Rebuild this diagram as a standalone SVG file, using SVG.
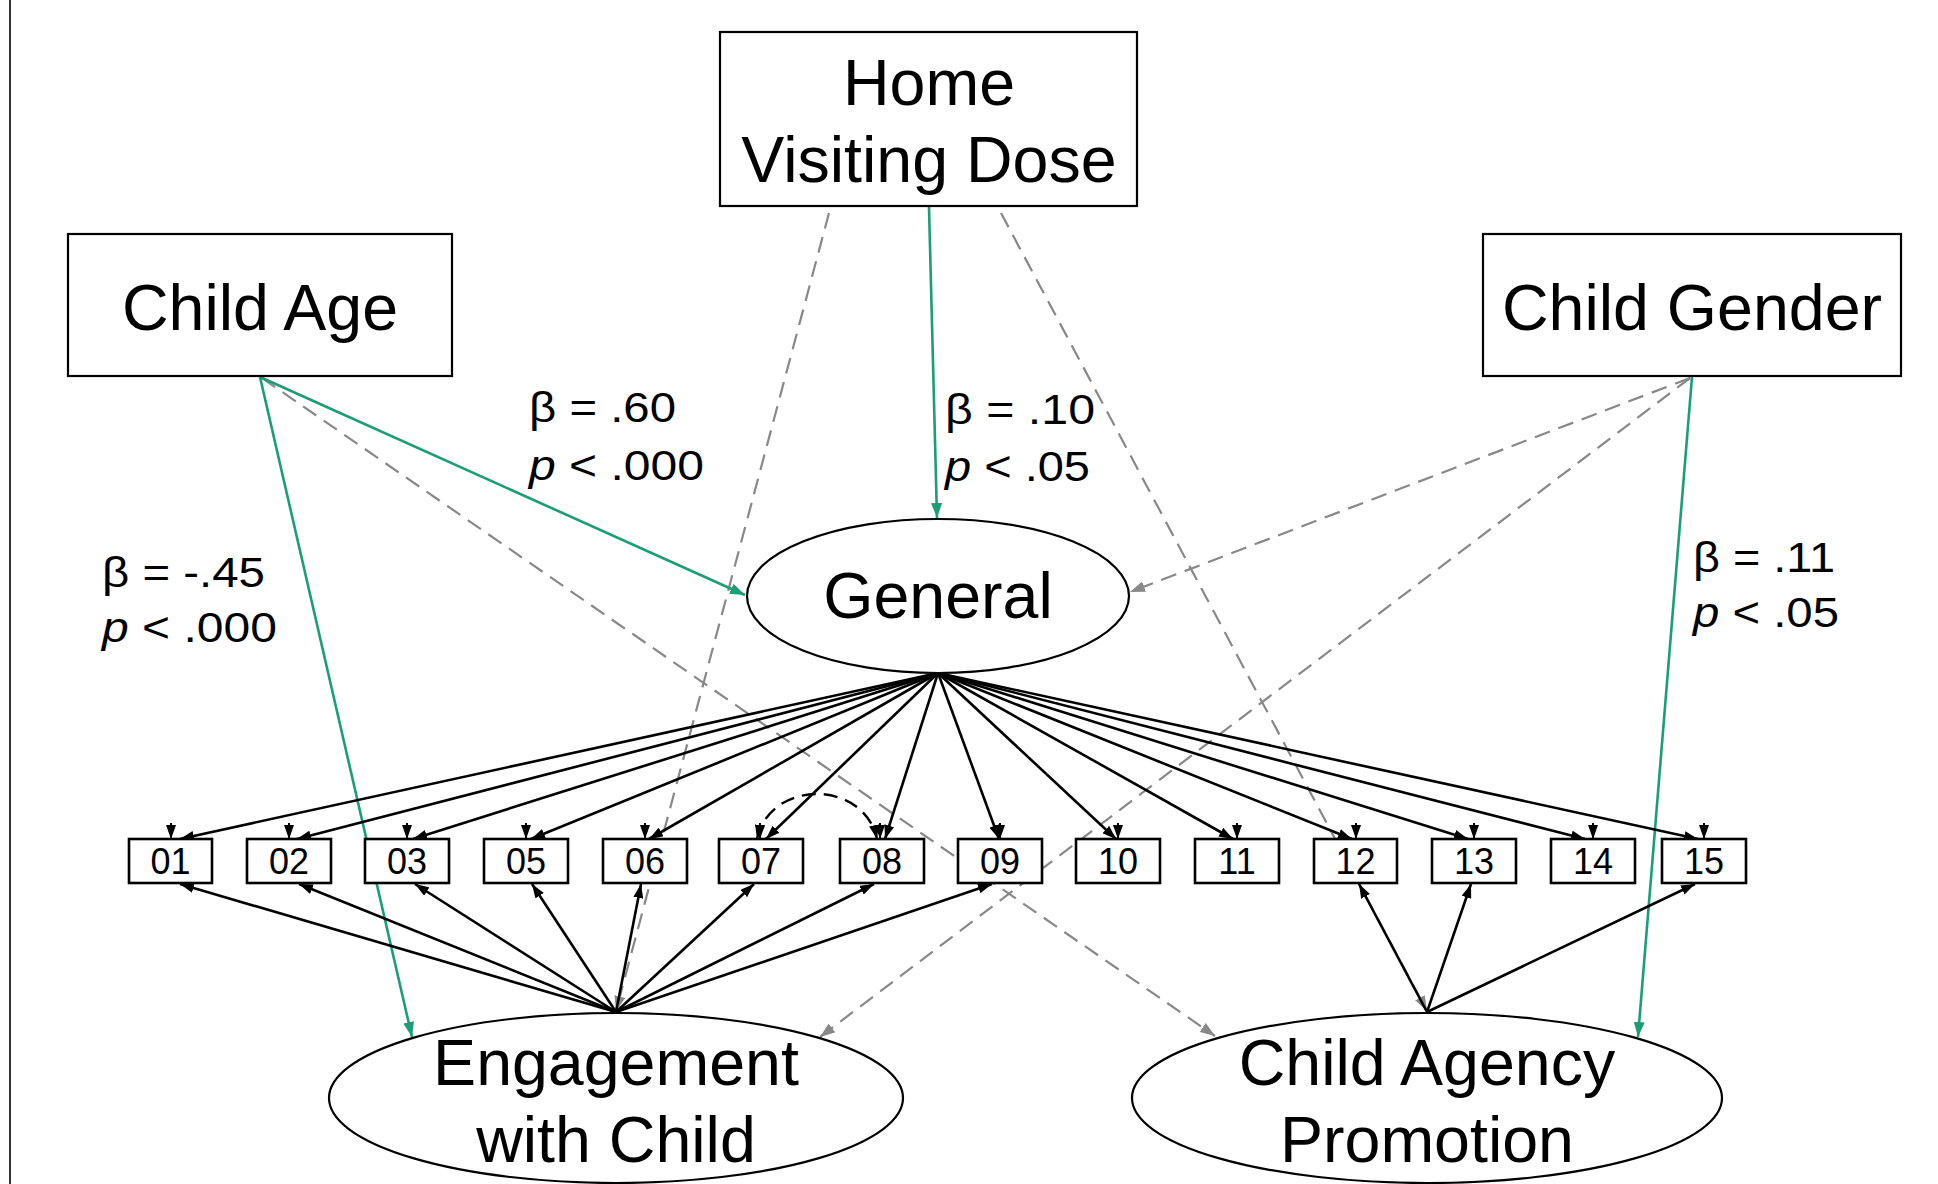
<svg xmlns="http://www.w3.org/2000/svg" width="1938" height="1184" viewBox="0 0 1938 1184">
<style>
text{font-family:"Liberation Sans",Arial,sans-serif;fill:#000}
.big{font-size:64.5px;text-anchor:middle}
.lab{font-size:43px}
.ind{font-size:36px;text-anchor:middle}
.box{fill:#fff;stroke:#000;stroke-width:2.2}
.ibox{fill:#fff;stroke:#000;stroke-width:2.6}
.ell{fill:#fff;stroke:#000;stroke-width:2.2}
.blk{stroke:#000;stroke-width:2.6;fill:none;marker-end:url(#ab)}
.err{stroke:#000;stroke-width:2;fill:none;marker-end:url(#ab)}
.gd{stroke:#888;stroke-width:2.2;fill:none;stroke-dasharray:16 9;marker-end:url(#ag)}
.gr{stroke:#1b9e77;stroke-width:2.6;fill:none;marker-end:url(#agr)}
</style>
<defs>
<marker id="ab" markerUnits="userSpaceOnUse" markerWidth="14" markerHeight="10" viewBox="0 0 14 10" refX="14" refY="5" orient="auto"><path d="M0,0 L14,5 L0,10 z" fill="#000"/></marker>
<marker id="abs" markerUnits="userSpaceOnUse" markerWidth="14" markerHeight="10" viewBox="0 0 14 10" refX="14" refY="5" orient="auto-start-reverse"><path d="M0,0 L14,5 L0,10 z" fill="#000"/></marker>
<marker id="ag" markerUnits="userSpaceOnUse" markerWidth="15" markerHeight="11" viewBox="0 0 15 11" refX="15" refY="5.5" orient="auto"><path d="M0,0 L15,5.5 L0,11 z" fill="#888"/></marker>
<marker id="agr" markerUnits="userSpaceOnUse" markerWidth="15" markerHeight="11" viewBox="0 0 15 11" refX="15" refY="5.5" orient="auto"><path d="M0,0 L15,5.5 L0,11 z" fill="#1b9e77"/></marker>
</defs>
<rect x="0" y="0" width="1938" height="1184" fill="#fff"/>
<line x1="10" y1="0" x2="10" y2="1184" stroke="#333" stroke-width="2"/>

<g id="connectors">
<!-- Home Visiting Dose -->
<line class="gd" x1="829" y1="213" x2="616" y2="1011"/>
<line class="gd" x1="1001" y1="213" x2="1427" y2="1011"/>
<line class="gr" x1="929" y1="207" x2="937" y2="518"/>
<!-- Child Age -->
<line class="gd" x1="262" y1="378" x2="1215" y2="1036"/>
<line class="gr" x1="260" y1="377" x2="412" y2="1037"/>
<line class="gr" x1="260" y1="377" x2="745" y2="595" stroke-width="3.2"/>
<!-- Child Gender -->
<line class="gd" x1="1690" y1="378" x2="1130" y2="592"/>
<line class="gd" x1="1690" y1="378" x2="820" y2="1037"/>
<line class="gr" x1="1692" y1="377" x2="1638" y2="1037"/>
<!-- General to indicators -->
<line class="blk" x1="938" y1="673" x2="180" y2="839"/>
<line class="blk" x1="938" y1="673" x2="297" y2="839"/>
<line class="blk" x1="938" y1="673" x2="413" y2="839"/>
<line class="blk" x1="938" y1="673" x2="531" y2="839"/>
<line class="blk" x1="938" y1="673" x2="649" y2="839"/>
<line class="blk" x1="938" y1="673" x2="766" y2="839"/>
<line class="blk" x1="938" y1="673" x2="885" y2="839"/>
<line class="blk" x1="938" y1="673" x2="999" y2="839"/>
<line class="blk" x1="938" y1="673" x2="1116" y2="839"/>
<line class="blk" x1="938" y1="673" x2="1233" y2="839"/>
<line class="blk" x1="938" y1="673" x2="1352" y2="839"/>
<line class="blk" x1="938" y1="673" x2="1468" y2="839"/>
<line class="blk" x1="938" y1="673" x2="1585" y2="839"/>
<line class="blk" x1="938" y1="673" x2="1698" y2="839"/>
<!-- error arrows -->
<line class="err" x1="171" y1="823" x2="171" y2="839"/>
<line class="err" x1="289" y1="823" x2="289" y2="839"/>
<line class="err" x1="407" y1="823" x2="407" y2="839"/>
<line class="err" x1="526" y1="823" x2="526" y2="839"/>
<line class="err" x1="645" y1="823" x2="645" y2="839"/>
<line class="err" x1="760" y1="823" x2="760" y2="839"/>
<line class="err" x1="880" y1="823" x2="880" y2="839"/>
<line class="err" x1="1000" y1="823" x2="1000" y2="839"/>
<line class="err" x1="1118" y1="823" x2="1118" y2="839"/>
<line class="err" x1="1237" y1="823" x2="1237" y2="839"/>
<line class="err" x1="1356" y1="823" x2="1356" y2="839"/>
<line class="err" x1="1474" y1="823" x2="1474" y2="839"/>
<line class="err" x1="1593" y1="823" x2="1593" y2="839"/>
<line class="err" x1="1704" y1="823" x2="1704" y2="839"/>
<!-- correlated residual 07-08 -->
<path d="M757,839 C770,779 864,779 877,839" fill="none" stroke="#000" stroke-width="2.4" stroke-dasharray="14 8" marker-start="url(#abs)" marker-end="url(#abs)"/>
<!-- Engagement to indicators -->
<line class="blk" x1="616" y1="1012" x2="180" y2="884"/>
<line class="blk" x1="616" y1="1012" x2="299" y2="884"/>
<line class="blk" x1="616" y1="1012" x2="415" y2="884"/>
<line class="blk" x1="616" y1="1012" x2="532" y2="884"/>
<line class="blk" x1="616" y1="1012" x2="641" y2="884"/>
<line class="blk" x1="616" y1="1012" x2="754" y2="884"/>
<line class="blk" x1="616" y1="1012" x2="874" y2="884"/>
<line class="blk" x1="616" y1="1012" x2="992" y2="884"/>
<!-- Child Agency to indicators -->
<line class="blk" x1="1427" y1="1012" x2="1359" y2="884"/>
<line class="blk" x1="1427" y1="1012" x2="1471" y2="884"/>
<line class="blk" x1="1427" y1="1012" x2="1695" y2="884"/>
</g>

<g id="node-home">
<rect class="box" x="720" y="32" width="417" height="174"/>
<text class="big" x="929" y="105">Home</text>
<text class="big" x="929" y="182">Visiting Dose</text>
</g>
<g id="node-childage">
<rect class="box" x="68" y="234" width="384" height="142"/>
<text class="big" x="260" y="330">Child Age</text>
</g>
<g id="node-childgender">
<rect class="box" x="1483" y="234" width="418" height="142"/>
<text class="big" x="1692" y="330">Child Gender</text>
</g>
<g id="node-general">
<ellipse class="ell" cx="938" cy="596" rx="191" ry="77"/>
<text class="big" x="938" y="618">General</text>
</g>
<g id="node-engagement">
<ellipse class="ell" cx="616" cy="1098" rx="287" ry="85"/>
<text class="big" x="616" y="1085">Engagement</text>
<text class="big" x="616" y="1162">with Child</text>
</g>
<g id="node-agency">
<ellipse class="ell" cx="1427" cy="1098" rx="295" ry="85"/>
<text class="big" x="1427" y="1085">Child Agency</text>
<text class="big" x="1427" y="1162">Promotion</text>
</g>

<g id="node-i01"><rect class="ibox" x="129" y="839" width="83" height="44"/><text class="ind" x="170.5" y="874">01</text></g>
<g id="node-i02"><rect class="ibox" x="247" y="839" width="84" height="44"/><text class="ind" x="289" y="874">02</text></g>
<g id="node-i03"><rect class="ibox" x="365" y="839" width="84" height="44"/><text class="ind" x="407" y="874">03</text></g>
<g id="node-i05"><rect class="ibox" x="484" y="839" width="84" height="44"/><text class="ind" x="526" y="874">05</text></g>
<g id="node-i06"><rect class="ibox" x="603" y="839" width="84" height="44"/><text class="ind" x="645" y="874">06</text></g>
<g id="node-i07"><rect class="ibox" x="719" y="839" width="84" height="44"/><text class="ind" x="761" y="874">07</text></g>
<g id="node-i08"><rect class="ibox" x="840" y="839" width="84" height="44"/><text class="ind" x="882" y="874">08</text></g>
<g id="node-i09"><rect class="ibox" x="958" y="839" width="84" height="44"/><text class="ind" x="1000" y="874">09</text></g>
<g id="node-i10"><rect class="ibox" x="1076" y="839" width="84" height="44"/><text class="ind" x="1118" y="874">10</text></g>
<g id="node-i11"><rect class="ibox" x="1195" y="839" width="84" height="44"/><text class="ind" x="1237" y="874">11</text></g>
<g id="node-i12"><rect class="ibox" x="1314" y="839" width="83" height="44"/><text class="ind" x="1355.5" y="874">12</text></g>
<g id="node-i13"><rect class="ibox" x="1432" y="839" width="84" height="44"/><text class="ind" x="1474" y="874">13</text></g>
<g id="node-i14"><rect class="ibox" x="1551" y="839" width="84" height="44"/><text class="ind" x="1593" y="874">14</text></g>
<g id="node-i15"><rect class="ibox" x="1662" y="839" width="84" height="44"/><text class="ind" x="1704" y="874">15</text></g>

<g id="labels">
<text class="lab" x="529" y="422" textLength="147" lengthAdjust="spacingAndGlyphs">β = .60</text>
<text class="lab" x="529" y="480" textLength="175" lengthAdjust="spacingAndGlyphs"><tspan font-style="italic">p</tspan> &lt; .000</text>
<text class="lab" x="945" y="424" textLength="150" lengthAdjust="spacingAndGlyphs">β = .10</text>
<text class="lab" x="945" y="481" textLength="145" lengthAdjust="spacingAndGlyphs"><tspan font-style="italic">p</tspan> &lt; .05</text>
<text class="lab" x="102" y="587" textLength="163" lengthAdjust="spacingAndGlyphs">β = -.45</text>
<text class="lab" x="102" y="642" textLength="175" lengthAdjust="spacingAndGlyphs"><tspan font-style="italic">p</tspan> &lt; .000</text>
<text class="lab" x="1693" y="572" textLength="142" lengthAdjust="spacingAndGlyphs">β = .11</text>
<text class="lab" x="1693" y="627" textLength="146" lengthAdjust="spacingAndGlyphs"><tspan font-style="italic">p</tspan> &lt; .05</text>
</g>
</svg>
